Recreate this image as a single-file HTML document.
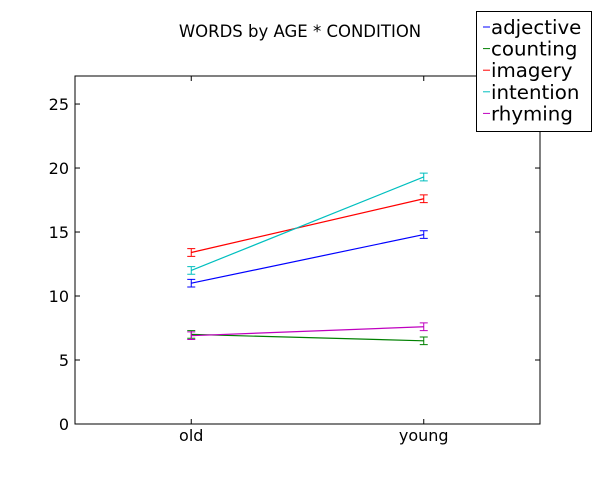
<!DOCTYPE html>
<html><head><meta charset="utf-8"><style>
body{margin:0;background:#fff;}
svg{display:block;font-family:"DejaVu Sans","Liberation Sans",sans-serif;}
</style></head><body>
<svg id="chart" width="600" height="500">
<rect width="600" height="500" fill="#fff"/>
<text x="300" y="37" text-anchor="middle" font-size="16.5">WORDS by AGE * CONDITION</text>
<g id="plot"></g>
</svg>
<script>
const categories = ["old","young"];
const seriesNames = ["adjective","counting","imagery","intention","rhyming"];
const seriesColors = ["#0000ff","#008000","#ff0000","#00bfbf","#bf00bf"];
const adjective = [11.0, 14.8];
const counting = [7.0, 6.5];
const imagery = [13.4, 17.6];
const intention = [12.0, 19.3];
const rhyming = [6.9, 7.6];
const errors = [0.3, 0.3];
const yTicks = [0,5,10,15,20,25];

const L=75,R=540,T=76,B=424,yMax=27.19;
const ns="http://www.w3.org/2000/svg";
const g=document.getElementById('plot');
function x(i){return L+(R-L)*(i+0.5)/categories.length;}
function y(v){return B-(B-T)*v/yMax;}
function mk(t,a,p){const e=document.createElementNS(ns,t);for(const k in a)e.setAttribute(k,a[k]);(p||g).appendChild(e);return e;}

let fr=mk('rect',{x:L,y:T,width:R-L,height:B-T,fill:'none',stroke:'#000'});


let bl=mk('line',{x1:L,x2:R,y1:B,y2:B,stroke:'#000','stroke-dasharray':'1,2'});



yTicks.forEach(v=>{
  const yy=y(v);
  let t1=mk('line',{x1:L,x2:L+5,y1:yy,y2:yy,stroke:'#000'});
  
  
  let t2=mk('line',{x1:R-5,x2:R,y1:yy,y2:yy,stroke:'#000'});
  
  
  let tx=mk('text',{x:L-6,y:yy+6,'text-anchor':'end','font-size':16});
  tx.textContent=v;
  
  
});
categories.forEach((c,i)=>{
  let t1=mk('line',{x1:x(i),x2:x(i),y1:B,y2:B-5,stroke:'#000'});
  
  
  let t2=mk('line',{x1:x(i),x2:x(i),y1:T,y2:T+5,stroke:'#000'});
  
  
  let tx=mk('text',{x:x(i),y:B+17,'text-anchor':'middle','font-size':16});
  tx.textContent=c;
  
  
});

const data=[adjective,counting,imagery,intention,rhyming];
data.forEach((vals,s)=>{
  const col=seriesColors[s];
  let pl=mk('polyline',{points:vals.map((v,i)=>x(i)+','+y(v)).join(' '),fill:'none',stroke:col,'stroke-width':1.2});
  
  
  vals.forEach((v,i)=>{
    const e=errors[i],xx=x(i);
    let eb=mk('path',{d:`M${xx},${y(v-e)}V${y(v+e)}M${xx-4},${y(v-e)}h8M${xx-4},${y(v+e)}h8`,stroke:col,fill:'none'});
    
    
  });
});

const lg=mk('g',{});


mk('rect',{x:476.5,y:11.5,width:115,height:120,fill:'#fff',stroke:'#000'},lg);
seriesNames.forEach((n,s)=>{
  const yy=27+s*21.6;
  let ln=mk('line',{x1:483,x2:490,y1:yy,y2:yy,stroke:seriesColors[s]},lg);
  
  
  let tx=mk('text',{x:491,y:yy+7,'font-size':19.8},lg);
  tx.textContent=n;
  
  
});
</script>
</body></html>
